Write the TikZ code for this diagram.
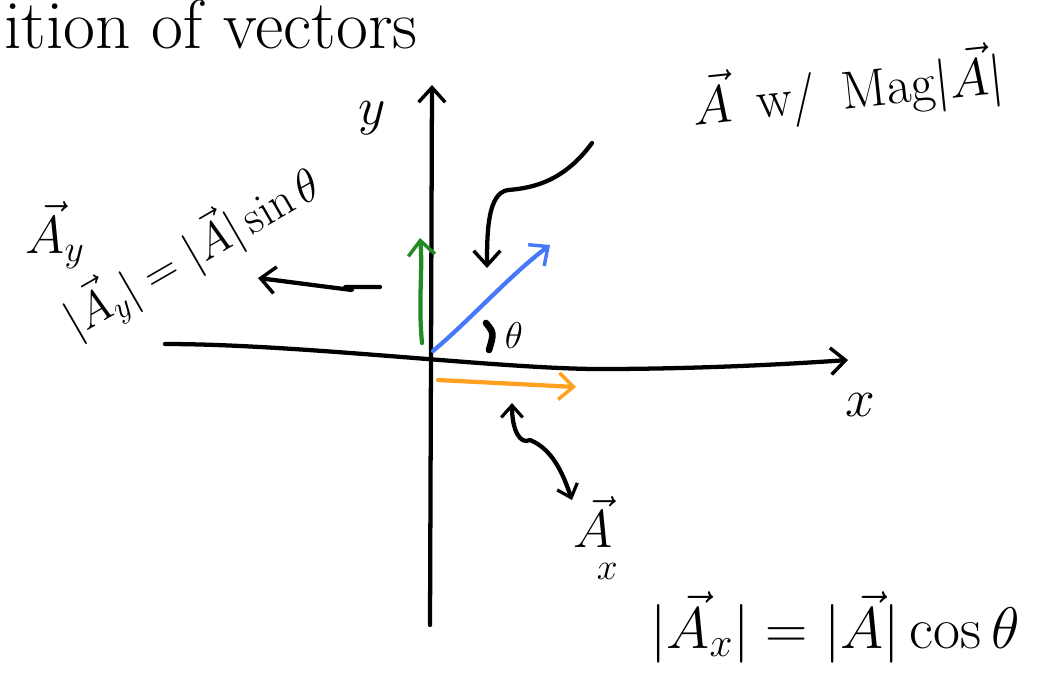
\RequirePackage{fix-cm}
\documentclass[tikz,border=0pt]{standalone}
\usetikzlibrary{arrows.meta}
\definecolor{ygreen}{RGB}{34,139,34}
\definecolor{ablue}{RGB}{70,120,250}
\definecolor{xorange}{RGB}{255,160,30}
\tikzset{
  big/.style={font=\fontsize{52}{58}\selectfont, inner sep=0pt},
  hand/.style={font=\fontsize{40}{46}\selectfont, inner sep=0pt},
  mid/.style={font=\fontsize{35}{40}\selectfont, inner sep=0pt},
  small/.style={font=\fontsize{28}{32}\selectfont, inner sep=0pt},
  ink/.style={line width=3.2pt, line cap=round, line join=round},
  tip/.style={-{Straight Barb[length=11pt,width=20pt,line width=2.6pt]}},
  bothtip/.style={{Straight Barb[length=9pt,width=16pt,line width=2.4pt]}-{Straight Barb[length=9pt,width=16pt,line width=2.4pt]}},
}
\begin{document}
\begin{tikzpicture}[x=0.75pt,y=-0.75pt]
\useasboundingbox (0,0) rectangle (1041,679);
% coordinates
\coordinate (yb) at (430,625);
\coordinate (yt) at (432,85);
\coordinate (xl) at (165,344);
\coordinate (xm) at (600,369);
\coordinate (xr) at (848,360);
\coordinate (gs) at (422,343);
\coordinate (ge) at (420,238);
\coordinate (bs) at (433,351);
\coordinate (be) at (550,245);
\coordinate (os) at (438,380);
\coordinate (oe) at (576,387);
% axes
\draw[ink,tip] (yb) -- (yt);
\draw[ink,tip] (xl) .. controls (300,344) and (500,369) .. (xm) .. controls (700,369) and (790,364) .. (xr);
% components
\draw[ink,tip,ygreen] (gs) .. controls (418,300) and (423,270) .. (ge);
\draw[ink,tip,ablue] (bs) .. controls (470,320) and (510,275) .. (be);
\draw[ink,tip,xorange] (os) -- (oe);
% angle mark
\draw[line width=5pt,line cap=round] (486,323) .. controls (494,333) .. (489,350);
% labels
\node[big,anchor=base west] (title) at (4,48) {ition of vectors};
\node[hand,rotate=6] (mag) at (848,90) {$\vec{A}$\,\ w/\ \,Mag$|\vec{A}|$};
\node[hand] (ylab) at (372,118) {$y$};
\node[hand] (xlab) at (860,405) {$x$};
\node[small] (th) at (514,336) {$\theta$};
\node[hand] (Ay) at (55,235) {$\vec{A}_y$};
\node[mid,rotate=30] (Aymag) at (192,252) {$|\vec{A}_y|=|\vec{A}|\sin\theta$};
\node[hand] (Ax) at (596,538) {$\vec{A}_{\kern-12pt\lower18pt\hbox{$\scriptstyle x$}}$};
\node[font=\fontsize{44}{50}\selectfont, inner sep=0pt] (Axmag) at (835,627) {$|\vec{A}_x| = |\vec{A}|\cos\theta$};
% pointers
\coordinate (p1) at (592,143);
\coordinate (p1e) at (487,268);
\draw[ink,tip] (p1) .. controls (565,180) and (535,188) .. (508,190) .. controls (488,193) and (487,230) .. (p1e);
\coordinate (p2) at (380,287);
\coordinate (p2e) at (258,278);
\draw[ink,tip] (p2) -- (345,287) -- (352,290) .. controls (320,286) and (290,282) .. (p2e);
\coordinate (p3) at (512,403);
\coordinate (p3e) at (572,500);
\draw[ink,bothtip] (p3) .. controls (512,430) and (520,445) .. (530,440) .. controls (555,450) and (565,480) .. (p3e);
\end{tikzpicture}
\end{document}
